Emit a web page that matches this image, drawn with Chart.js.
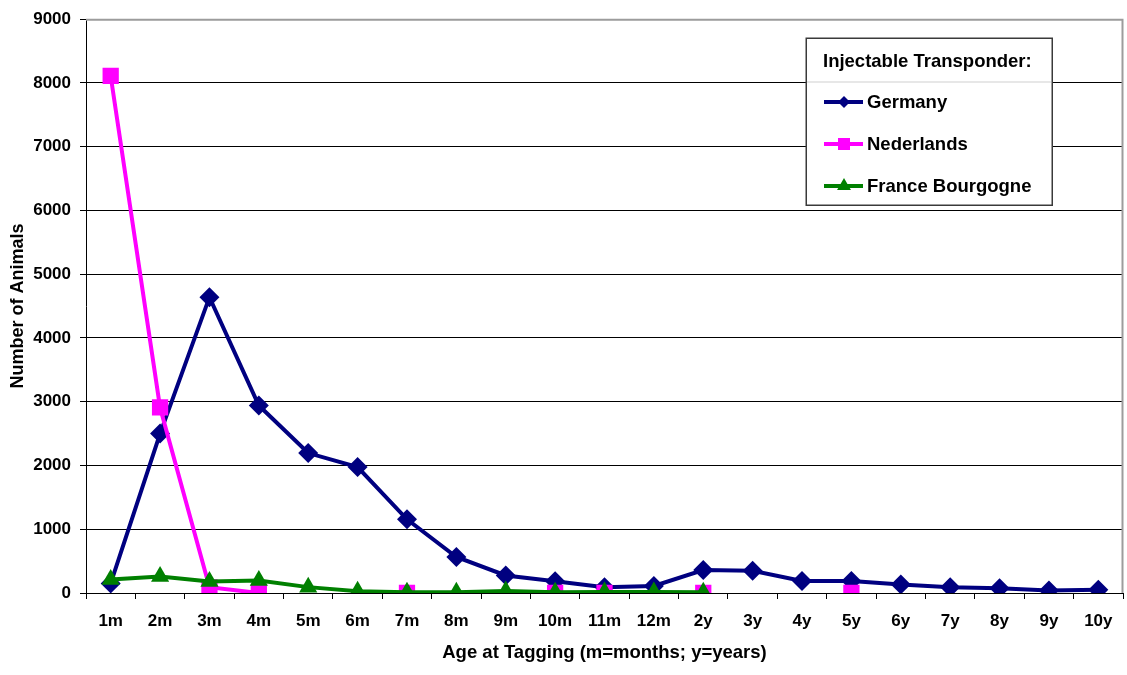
<!DOCTYPE html>
<html>
<head>
<meta charset="utf-8">
<script src="https://cdn.jsdelivr.net/npm/chart.js@4.4.1/dist/chart.umd.min.js"></script>
<style>
  html, body { margin: 0; padding: 0; background: #ffffff; }
  canvas { display: block; }
</style>
</head>
<body>
<canvas id="chart" width="1127" height="675"></canvas>
<script>
// Age at tagging categories (m = months, y = years)
const ageLabels = ['1m', '2m', '3m', '4m', '5m', '6m', '7m', '8m', '9m', '10m', '11m', '12m',
                   '2y', '3y', '4y', '5y', '6y', '7y', '8y', '9y', '10y'];

// Number of animals tagged with an injectable transponder
const germany = [150, 2500, 4640, 2940, 2195, 1975, 1155, 565, 275, 185, 90, 110,
                 360, 350, 190, 190, 135, 90, 75, 40, 50];
const nederlands = [8110, 2910, 90, 0, null, null, 0, null, null, 0, 0, null,
                    0, null, null, 0, null, null, null, null, null];
const franceBourgogne = [210, 258, 180, 196, 92, 28, 12, 12, 30, 12, 15, 15,
                         10, null, null, null, null, null, null, null, null];

const seriesNames = ['Germany', 'Nederlands', 'France Bourgogne'];
const legendTitle = 'Injectable Transponder:';
const yAxisTitle = 'Number of Animals';
const xAxisTitle = 'Age at Tagging (m=months; y=years)';
const yMax = 9000;
const yStep = 1000;

const FONT = "'Liberation Sans', Arial, sans-serif";

// Gray frame on the top and right edges of the plot area
const plotFrame = {
  id: 'plotFrame',
  beforeDatasetsDraw(chart) {
    const { ctx, chartArea: a } = chart;
    ctx.save();
    ctx.strokeStyle = '#9c9c9c';
    ctx.lineWidth = 2;
    ctx.beginPath();
    ctx.moveTo(a.left, a.top + 0.5);
    ctx.lineTo(a.right - 0.5, a.top + 0.5);
    ctx.lineTo(a.right - 0.5, a.bottom);
    ctx.stroke();
    ctx.restore();
  }
};

function drawMarker(ctx, style, x, y, r) {
  ctx.beginPath();
  if (style === 'rectRot') {
    ctx.moveTo(x, y - r);
    ctx.lineTo(x + r, y);
    ctx.lineTo(x, y + r);
    ctx.lineTo(x - r, y);
  } else if (style === 'rect') {
    ctx.rect(x - r, y - r, 2 * r, 2 * r);
  } else if (style === 'triangle') {
    ctx.moveTo(x, y - r);
    ctx.lineTo(x + r * 0.866, y + r * 0.5);
    ctx.lineTo(x - r * 0.866, y + r * 0.5);
  }
  ctx.closePath();
  ctx.fill();
}

// Boxed legend with a title, drawn inside the plot area
const legendBox = {
  id: 'legendBox',
  afterDatasetsDraw(chart) {
    const ctx = chart.ctx;
    const L = 806, T = 38, W = 246, H = 167;
    ctx.save();
    ctx.fillStyle = '#ffffff';
    ctx.fillRect(L, T, W, H);
    ctx.strokeStyle = '#3a3a3a';
    ctx.lineWidth = 1.5;
    ctx.strokeRect(L + 0.25, T + 0.25, W, H);

    ctx.strokeStyle = '#cfcfcf';
    ctx.lineWidth = 1;
    ctx.beginPath();
    ctx.moveTo(L + 1, 82);
    ctx.lineTo(L + W - 1, 82);
    ctx.stroke();

    ctx.fillStyle = '#000000';
    ctx.font = 'bold 18.5px ' + FONT;
    ctx.textBaseline = 'middle';
    ctx.textAlign = 'left';
    ctx.fillText(legendTitle, 823, 62);

    const sizes = { rectRot: 6, rect: 6, triangle: 8 };
    chart.data.datasets.forEach((ds, i) => {
      const y = 102 + i * 42;
      ctx.strokeStyle = ds.borderColor;
      ctx.lineWidth = 4;
      ctx.beginPath();
      ctx.moveTo(824, y);
      ctx.lineTo(863, y);
      ctx.stroke();
      ctx.fillStyle = ds.pointBackgroundColor;
      drawMarker(ctx, ds.pointStyle, 844, y, sizes[ds.pointStyle]);
      ctx.fillStyle = '#000000';
      ctx.fillText(ds.label, 867, y + 1);
    });
    ctx.restore();
  }
};

new Chart(document.getElementById('chart'), {
  type: 'line',
  data: {
    labels: ageLabels,
    datasets: [
      {
        label: seriesNames[0],
        data: germany,
        borderColor: '#000080',
        backgroundColor: '#000080',
        pointBackgroundColor: '#000080',
        pointBorderColor: '#000080',
        pointStyle: 'rectRot',
        pointRadius: 10,
        borderWidth: 4,
        pointBorderWidth: 0,
        order: 2
      },
      {
        label: seriesNames[1],
        data: nederlands,
        borderColor: '#ff00ff',
        backgroundColor: '#ff00ff',
        pointBackgroundColor: '#ff00ff',
        pointBorderColor: '#ff00ff',
        pointStyle: 'rect',
        pointRadius: 11.5,
        borderWidth: 4,
        pointBorderWidth: 0,
        order: 1
      },
      {
        label: seriesNames[2],
        data: franceBourgogne,
        borderColor: '#008000',
        backgroundColor: '#008000',
        pointBackgroundColor: '#008000',
        pointBorderColor: '#008000',
        pointStyle: 'triangle',
        pointRadius: 10.5,
        borderWidth: 4,
        pointBorderWidth: 0,
        order: 0
      }
    ]
  },
  options: {
    responsive: false,
    animation: false,
    events: [],
    spanGaps: false,
    layout: { autoPadding: false, padding: { top: 18, right: 4, bottom: 0, left: 0 } },
    elements: { line: { tension: 0 } },
    plugins: {
      legend: { display: false },
      tooltip: { enabled: false }
    },
    scales: {
      x: {
        offset: true,
        grid: {
          offset: true,
          drawOnChartArea: false,
          drawTicks: true,
          tickLength: 6,
          color: '#000000',
          lineWidth: 1
        },
        border: { display: true, color: '#000000', width: 1 },
        ticks: {
          color: '#000000',
          font: { family: FONT, size: 17, weight: 'bold' },
          padding: 12,
          maxRotation: 0,
          autoSkip: false
        },
        title: {
          display: true,
          text: xAxisTitle,
          color: '#000000',
          font: { family: FONT, size: 18.5, weight: 'bold' },
          padding: { top: 0, bottom: 11 }
        },
        afterFit(scale) {
          scale.height = 82;
          scale.paddingLeft = 0;
          scale.paddingRight = 0;
        }
      },
      y: {
        min: 0,
        max: yMax,
        grid: {
          color: (c) => (c.tick && c.tick.value === yMax ? '#9c9c9c' : '#000000'),
          tickColor: '#000000',
          lineWidth: 1,
          tickLength: 6
        },
        border: { display: true, color: '#000000', width: 1 },
        ticks: {
          stepSize: yStep,
          color: '#000000',
          font: { family: FONT, size: 17, weight: 'bold' },
          padding: 9,
          callback: (v) => String(v)
        },
        title: {
          display: true,
          text: yAxisTitle,
          color: '#000000',
          font: { family: FONT, size: 18, weight: 'bold' },
          padding: { top: 7, bottom: 0 }
        },
        afterFit(scale) { scale.width = 86; }
      }
    }
  },
  plugins: [plotFrame, legendBox]
});
</script>
</body>
</html>
